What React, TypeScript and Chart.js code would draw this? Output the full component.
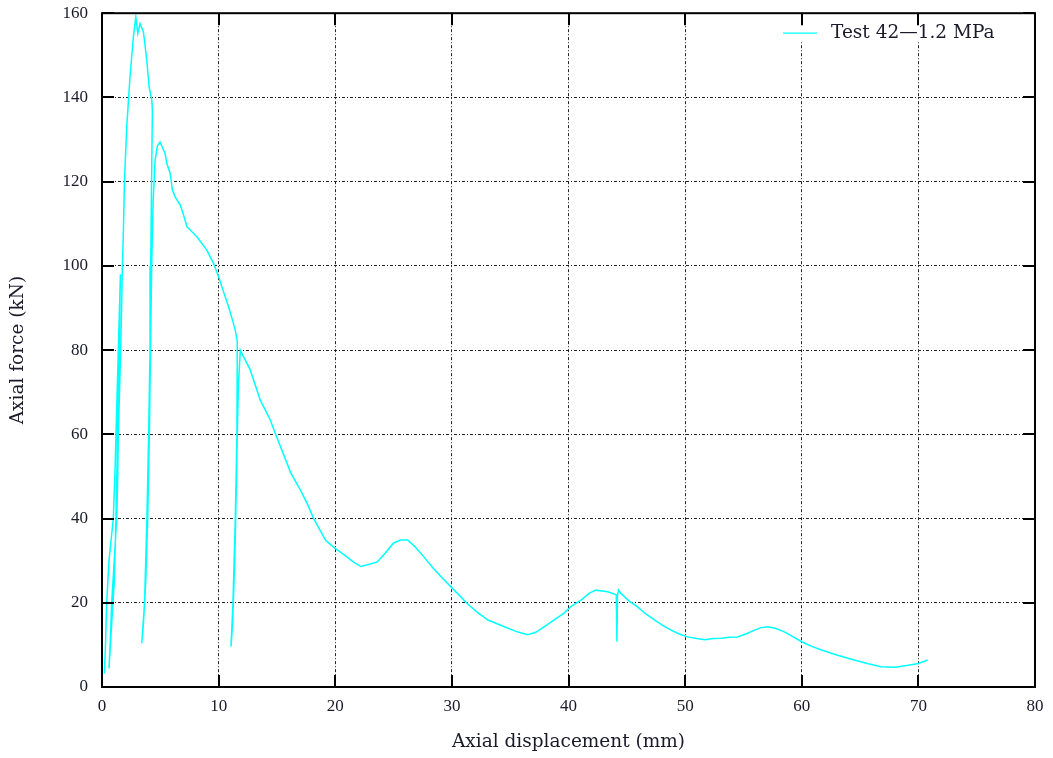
import { useEffect, useRef } from "react";
import { Chart, registerables } from "chart.js";

Chart.register(...registerables);

const displacement = [
  0.2, 0.3, 0.4, 0.6, 0.97, 1.1, 1.2, 1.3, 1.4, 1.5, 1.58,
  1.5, 1.4, 1.3, 1.2, 1.05, 0.83, 0.6,
  0.7, 0.83, 1.05, 1.26, 1.35, 1.4, 1.5, 1.6, 1.68, 1.75, 1.85, 1.92, 2.12, 2.4, 2.69, 2.9, 3.07, 3.26, 3.55, 3.84, 4.04, 4.27, 4.32,
  4.25, 4.18, 4.12, 4.0, 3.85, 3.65, 3.41,
  3.55, 3.75, 3.92, 4.06, 4.16, 4.26, 4.38, 4.55, 4.75, 4.98,
  5.41, 5.56, 5.84, 6.04, 6.27, 6.7, 7.0, 7.28, 8.14, 9.0, 9.56, 10.0, 10.4, 10.85, 11.2, 11.43, 11.6,
  11.57, 11.43, 11.23, 11.06,
  11.2, 11.38, 11.5, 11.6, 11.7, 11.86,
  12.14, 12.71, 13.57, 14.43, 14.86, 15.87, 16.15, 17.0, 17.59, 18.15, 19.16, 19.6, 20.0, 21.0, 21.6, 22.2, 23.0, 23.6, 24.2, 25.0, 25.6, 26.2, 26.8, 27.6, 28.4, 29.2, 30.2, 31.4, 32.3, 33.1, 34.5, 35.6, 36.5, 37.2, 37.9, 38.8, 39.6, 40.2, 41.1, 41.8, 42.35, 43.36, 44.1, 44.15, 44.2, 44.3, 44.5, 45.2, 45.9, 46.6, 47.4, 48.1, 48.8, 49.5, 50.2, 51.0, 51.7, 52.4, 53.1, 53.8, 54.5, 55.2, 55.95, 56.5, 57.1, 57.8, 58.5, 59.2, 60.0, 60.8, 61.7, 63.0, 64.5, 65.7, 66.8, 68.0, 69.0, 70.0, 70.8,
];

const force = [
  3.2, 10, 20, 30, 40, 50, 60, 70, 80, 90, 98,
  85, 70, 55, 40, 25, 15, 4.4,
  10, 20, 30, 40, 50, 60, 70, 80, 90, 100, 110, 119.6, 133, 144.9, 154.4, 159.1, 155.2, 157.5, 155.6, 148.8, 142.5, 139.3, 137,
  120, 100, 80, 60, 40, 20, 10.4,
  15, 25, 40, 60, 80, 100, 115, 125, 128.5, 129.4,
  126.7, 124.3, 122, 118, 116.4, 114.5, 112, 109.3, 106.9, 103.7, 100.6, 97.4, 94, 90.3, 87, 84.7, 82,
  60, 40, 20, 9.6,
  15, 30, 45, 60, 72, 80,
  78.4, 75.3, 68.1, 63.4, 60.2, 53.1, 51, 46.8, 43.6, 40.0, 34.9, 33.8, 32.9, 30.9, 29.6, 28.6, 29.2, 29.7, 31.5, 34.2, 34.9, 34.9, 33.4, 30.9, 28.2, 25.8, 23, 19.6, 17.5, 15.9, 14.3, 13.1, 12.4, 13, 14.3, 16, 17.5, 19.1, 20.7, 22.3, 23, 22.6, 21.9, 10.8, 21.8, 23, 22.2, 20.4, 19.1, 17.4, 15.9, 14.6, 13.5, 12.6, 11.9, 11.5, 11.2, 11.5, 11.6, 11.8, 11.9, 12.6, 13.5, 14.1, 14.3, 13.9, 13.1, 12, 10.75, 9.7, 8.8, 7.6, 6.4, 5.5, 4.8, 4.7, 5.1, 5.6, 6.4,
];

const xTicks = [0, 10, 20, 30, 40, 50, 60, 70, 80];
const yTicks = [0, 20, 40, 60, 80, 100, 120, 140, 160];
const seriesLabel = "Test 42\u20141.2 MPa";
const xTitle = "Axial displacement (mm)";
const yTitle = "Axial force (kN)";

const TICK_FONT = "'Liberation Serif', 'DejaVu Serif', serif";
const TEXT_FONT = "'DejaVu Serif', 'Liberation Serif', serif";
const TEXT_COLOR = "#1a1a2a";
const LINE_COLOR = "#00ffff";
const TRANSPARENT = "rgba(0,0,0,0)";

const framePlugin = {
  id: "frame",
  afterDatasetsDraw(chart: any) {
    const { ctx, chartArea: a, scales } = chart;
    ctx.save();
    // legend (white box hides grid behind it)
    const lx = 783;
    const ly = a.top + 20;
    ctx.fillStyle = "#fff";
    ctx.fillRect(774, a.top + 1, 248, 28);
    ctx.strokeStyle = LINE_COLOR;
    ctx.lineWidth = 1.2;
    ctx.beginPath();
    ctx.moveTo(lx, ly);
    ctx.lineTo(lx + 34, ly);
    ctx.stroke();
    ctx.fillStyle = TEXT_COLOR;
    ctx.font = `18.5px ${TEXT_FONT}`;
    ctx.textBaseline = "middle";
    ctx.textAlign = "left";
    ctx.fillText(seriesLabel, lx + 48, ly);

    // frame
    ctx.strokeStyle = "#000";
    ctx.lineWidth = 2;
    ctx.strokeRect(a.left, a.top, a.right - a.left, a.bottom - a.top);
    // inward ticks
    const L = 12;
    ctx.beginPath();
    xTicks.forEach((v) => {
      const px = Math.round(scales.x.getPixelForValue(v));
      ctx.moveTo(px, a.bottom);
      ctx.lineTo(px, a.bottom - L);
      ctx.moveTo(px, a.top);
      ctx.lineTo(px, a.top + L);
    });
    yTicks.forEach((v) => {
      const py = Math.round(scales.y.getPixelForValue(v));
      ctx.moveTo(a.left, py);
      ctx.lineTo(a.left + L, py);
      ctx.moveTo(a.right, py);
      ctx.lineTo(a.right - L, py);
    });
    ctx.stroke();
    ctx.restore();
  },
};

export default function App() {
  const ref = useRef<HTMLCanvasElement>(null);

  useEffect(() => {
    document.body.style.margin = "0";
    const canvas = ref.current;
    if (!canvas) return;
    const points = displacement.map((x, i) => ({ x, y: force[i] }));
    const chart = new Chart(canvas, {
      type: "scatter",
      data: {
        datasets: [
          {
            label: seriesLabel,
            data: points,
            showLine: true,
            borderColor: LINE_COLOR,
            backgroundColor: LINE_COLOR,
            borderWidth: 1.5,
            pointRadius: 0,
            tension: 0,
          },
        ],
      },
      options: {
        animation: false,
        responsive: false,
        maintainAspectRatio: false,
        layout: { padding: { top: 13, right: 18, left: 0, bottom: 0 } },
        plugins: {
          legend: { display: false },
          tooltip: { enabled: false },
        },
        scales: {
          x: {
            type: "linear",
            min: 0,
            max: 80,
            afterBuildTicks: (s: any) => {
              s.ticks = xTicks.map((v) => ({ value: v }));
            },
            afterFit: (s: any) => {
              s.height = 71;
            },
            ticks: {
              padding: 3,
              color: TEXT_COLOR,
              font: { family: TICK_FONT, size: 17 },
              maxRotation: 0,
            },
            grid: {
              color: "#222",
              lineWidth: 1,
              drawTicks: true,
              tickLength: 6,
              tickColor: TRANSPARENT,
            },
            border: { display: false, dash: [3, 2, 1, 2] },
            title: {
              display: true,
              text: xTitle,
              color: TEXT_COLOR,
              font: { family: TEXT_FONT, size: 18.5 },
              padding: { top: 0, bottom: 5 },
            },
          },
          y: {
            type: "linear",
            min: 0,
            max: 160,
            afterBuildTicks: (s: any) => {
              s.ticks = yTicks.map((v) => ({ value: v }));
            },
            afterFit: (s: any) => {
              s.width = 102;
            },
            ticks: {
              padding: 3,
              color: TEXT_COLOR,
              font: { family: TICK_FONT, size: 17 },
            },
            grid: {
              color: "#222",
              lineWidth: 1,
              drawTicks: true,
              tickLength: 11,
              tickColor: TRANSPARENT,
            },
            border: { display: false, dash: [3, 2, 1, 2] },
            title: {
              display: true,
              text: yTitle,
              color: TEXT_COLOR,
              font: { family: TEXT_FONT, size: 18.5 },
              padding: { top: 7, bottom: 0 },
            },
          },
        },
      },
      plugins: [framePlugin],
    });
    return () => chart.destroy();
  }, []);

  return (
    <div style={{ width: 1053, height: 758 }}>
      <canvas ref={ref} width={1053} height={758} style={{ display: "block" }} />
    </div>
  );
}
